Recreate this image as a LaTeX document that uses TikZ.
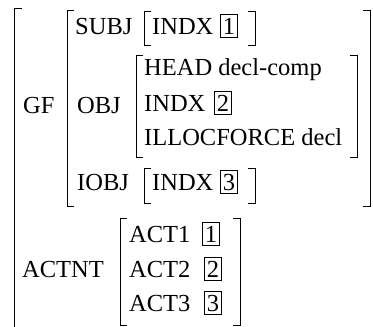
\documentclass[tikz,border=0pt]{standalone}
\usepackage{fontspec}
\setmainfont{Liberation Serif}
\newcommand\avmlbr[3]{\draw[brk] (#1+7,#2) -- (#1,#2) -- (#1,#3) -- (#1+7,#3);}
\newcommand\avmrbr[3]{\draw[brk] (#1-7,#2) -- (#1,#2) -- (#1,#3) -- (#1-7,#3);}
\begin{document}
\begin{tikzpicture}[x=1pt,y=-1pt,
  lbl/.style={anchor=base west,inner sep=0pt,font=\fontsize{24.5}{29}\selectfont},
  tag/.style={anchor=base west,draw,line width=0.8pt,inner xsep=2.5pt,inner ysep=3pt,font=\fontsize{24.5}{29}\selectfont},
  brk/.style={line width=0.9pt}]
\useasboundingbox (0,0) rectangle (373,327);
% outer bracket (only left part visible)
\draw[brk] (22,8) -- (14,8) -- (14,330);
% GF matrix
\avmlbr{67}{10}{206}
\avmrbr{370}{10}{206}
% SUBJ value
\avmlbr{144}{11}{45}
\avmrbr{255}{11}{45}
% OBJ value
\avmlbr{136}{55}{157}
\avmrbr{357}{55}{157}
% IOBJ value
\avmlbr{144}{168}{203}
\avmrbr{255}{168}{203}
% ACTNT value
\avmlbr{120}{218}{325}
\avmrbr{240}{218}{325}
% texts
\node[lbl] (gf) at (23,113) {GF};
\node[lbl] (subj) at (75,34) {SUBJ};
\node[lbl] (indx1) at (152,34) {INDX};
\node[tag] (t1) at (220,34) {1};
\node[lbl] (obj) at (77,113) {OBJ};
\node[lbl] (head) at (144,75) {HEAD decl-comp};
\node[lbl] (indx2) at (144,111) {INDX};
\node[tag] (t2) at (214,111) {2};
\node[lbl] (illoc) at (144,145) {ILLOCFORCE decl};
\node[lbl] (iobj) at (77,190) {IOBJ};
\node[lbl] (indx3) at (152,190) {INDX};
\node[tag] (t3) at (220,190) {3};
\node[lbl] (actnt) at (22,277) {ACTNT};
\node[lbl] (act1) at (129,242) {ACT1};
\node[tag] (a1) at (202,242) {1};
\node[lbl] (act2) at (129,277) {ACT2};
\node[tag] (a2) at (204,277) {2};
\node[lbl] (act3) at (129,311) {ACT3};
\node[tag] (a3) at (204,311) {3};
\end{tikzpicture}
\end{document}
